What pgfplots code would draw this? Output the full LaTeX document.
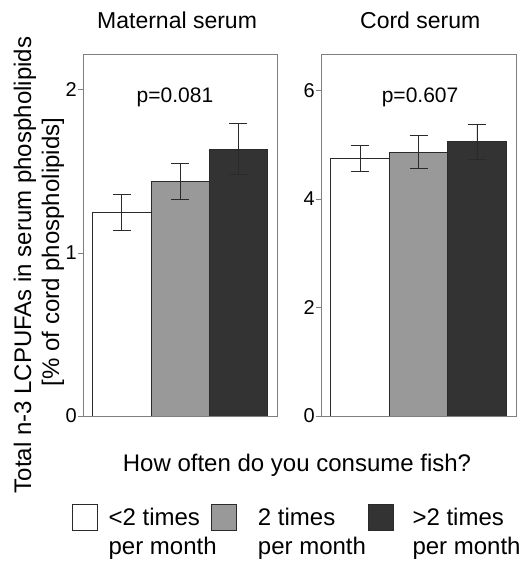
\documentclass[border=0pt]{standalone}
\usepackage{fontspec}
\setmainfont{Liberation Sans}
\usepackage{pgfplots}
\pgfplotsset{compat=1.18}
\definecolor{barGray}{HTML}{999999}
\definecolor{barDark}{HTML}{333333}
\definecolor{frameGray}{HTML}{7F7F7F}
\definecolor{edge}{HTML}{2A2A2A}
\pgfplotsset{
  panel/.style={
    scale only axis, height=362pt, ymin=0,
    xmin=-0.667, xmax=2.667, xtick=\empty,
    axis line style={frameGray, line width=0.8pt},
    ytick pos=left, tick align=outside, major tick length=5pt,
    tick style={frameGray, line width=0.8pt},
    yticklabel style={font=\fontsize{20}{24}\selectfont, inner sep=1pt},
    /pgf/number format/assume math mode=true,
    ybar, bar width=1, bar shift=0pt,
    every axis plot/.append style={draw=edge, line width=0.6pt},
  },
  eb/.style={error bars/.cd, y dir=both, y explicit,
    error bar style={edge, line width=0.8pt},
    error mark options={edge, rotate=90, mark size=9pt, line width=0.8pt}},
  lg/.style={legend image code/.code={\draw[##1] (0pt,4pt) rectangle (25pt,30pt); \path (#1,0pt);}},
}
\begin{document}
\begin{tikzpicture}[x=1pt,y=1pt]
\path[use as bounding box] (0,0) rectangle (526,561);
% left panel
\begin{axis}[panel, at={(83pt,145pt)}, anchor=south west, width=194pt,
  ymax=2.22, ytick={0,1,2},
  title={Maternal serum},
  title style={font=\fontsize{23}{28}\selectfont, at={(0.485,1)}, anchor=base, yshift=19pt},
  legend columns=3, legend cell align=left,
  legend style={draw=none, fill=none, inner sep=0pt, outer sep=0pt,
    column sep=0pt, row sep=0pt,
    nodes={inner sep=0pt, outer sep=0pt, text depth={}},
    font=\fontsize{24}{28.5}\selectfont,
    at={(-0.058,-0.243)}, anchor=north west},
  ]
\addplot[fill=white, lg=36.3pt, eb]
  coordinates {(0,1.25) +- (0,0.11)};
\addlegendentry{\makebox[102pt][l]{\begin{tabular}{@{}l@{}}<2 times\\per month\end{tabular}}}
\addplot[fill=barGray, lg=46.7pt, eb]
  coordinates {(1,1.437) +- (0,0.11)};
\addlegendentry{\makebox[110pt][l]{\begin{tabular}{@{}l@{}}2 times\\per month\end{tabular}}}
\addplot[fill=barDark, lg=44pt, eb]
  coordinates {(2,1.638) +- (0,0.154)};
\addlegendentry{\begin{tabular}{@{}l@{}}>2 times\\per month\end{tabular}}
\node[font=\fontsize{21}{25}\selectfont, anchor=base] at (rel axis cs:0.474,0.867) {p=0.081};
\end{axis}
% right panel
\begin{axis}[panel, at={(321pt,145pt)}, anchor=south west, width=195pt,
  ymax=6.67, ytick={0,2,4,6},
  title={Cord serum},
  title style={font=\fontsize{23}{28}\selectfont, at={(0.509,1)}, anchor=base, yshift=19pt},
  ]
\addplot[fill=white, eb] coordinates {(0,4.75) +- (0,0.245)};
\addplot[fill=barGray, eb] coordinates {(1,4.866) +- (0,0.31)};
\addplot[fill=barDark, eb] coordinates {(2,5.056) +- (0,0.32)};
\node[font=\fontsize{21}{25}\selectfont, anchor=base] at (rel axis cs:0.508,0.867) {p=0.607};
\end{axis}
% axis titles
\node[font=\fontsize{24}{28.5}\selectfont, anchor=base] at (297,89.3) {How often do you consume fish?};
\node[font=\fontsize{24}{28.5}\selectfont, anchor=base, rotate=90] at (31,296) {Total n-3 LCPUFAs in serum phospholipids};
\node[font=\fontsize{24}{28.5}\selectfont, anchor=base, rotate=90] at (59,309) {[\% of cord phospholipids]};
\end{tikzpicture}
\end{document}
